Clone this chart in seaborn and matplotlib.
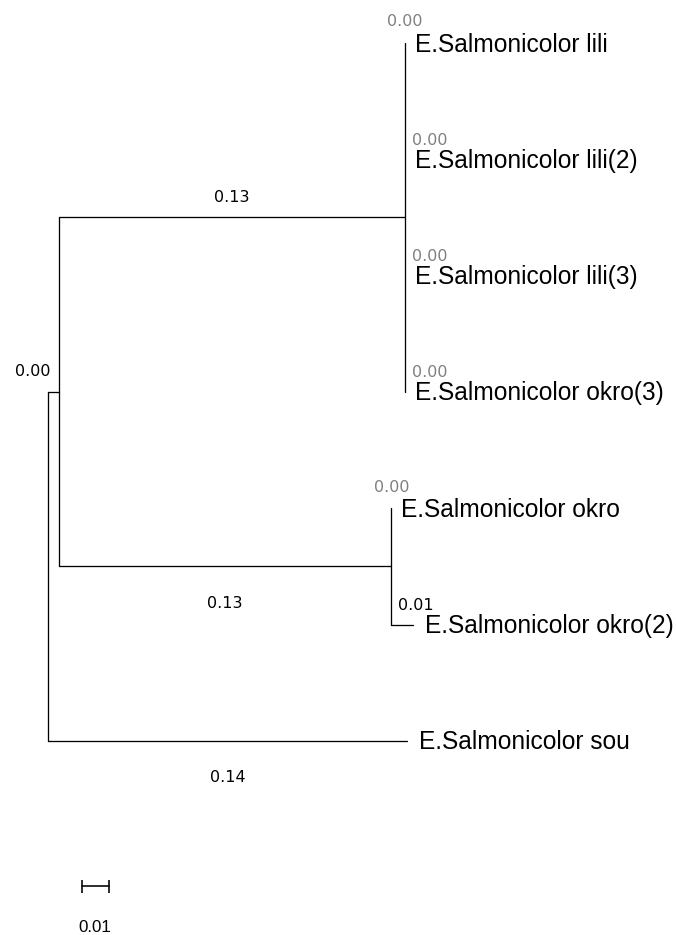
import matplotlib
matplotlib.use("Agg")
import matplotlib.pyplot as plt
import pandas as pd
import seaborn as sns

# tree topology (parent of each node) and branch lengths
node_names = ["root", "A", "L", "O", "lili", "lili2", "lili3", "okro3", "okro", "okro2", "sou"]
parents = [None, "root", "A", "A", "L", "L", "L", "L", "O", "O", "root"]
branch_lengths = [0.0, 0.004, 0.130, 0.125, 0.0, 0.0, 0.0, 0.0, 0.0, 0.008, 0.135]
branch_labels = ["", "0.00", "0.13", "0.13", "0.00", "0.00", "0.00", "0.00", "0.00", "0.01", "0.14"]

leaf_order = ["lili", "lili2", "lili3", "okro3", "okro", "okro2", "sou"]
leaf_labels = [
    "E.Salmonicolor lili",
    "E.Salmonicolor lili(2)",
    "E.Salmonicolor lili(3)",
    "E.Salmonicolor okro(3)",
    "E.Salmonicolor okro",
    "E.Salmonicolor okro(2)",
    "E.Salmonicolor sou",
]
scale_length = 0.01

# layout (pixels, figure drawn at 72 dpi so 1 pt == 1 px)
W, H = 676, 935
PX_PER_UNIT = 2662
ROOT_PX = 48
LEAF_TOP_PX = 43
LEAF_STEP_PX = 116.3


def build_tree():
    children = {n: [] for n in node_names}
    for n, p in zip(node_names, parents):
        if p is not None:
            children[p].append(n)
    length = dict(zip(node_names, branch_lengths))
    label = dict(zip(node_names, branch_labels))
    parent = dict(zip(node_names, parents))
    xs, ys = {}, {}

    def place(n, x0):
        xs[n] = x0 + length[n]
        if not children[n]:
            ys[n] = leaf_order.index(n)
        else:
            for c in children[n]:
                place(c, xs[n])
            cy = [ys[c] for c in children[n]]
            ys[n] = (min(cy) + max(cy)) / 2

    place("root", 0.0)
    return children, length, label, parent, xs, ys


def main():
    children, length, label, parent, xs, ys = build_tree()

    rows = []
    seg = 0
    for n in node_names:
        p = parent[n]
        if p is not None and length[n] > 0:
            rows += [(seg, xs[p], ys[n]), (seg, xs[n], ys[n])]
            seg += 1
        if children[n]:
            cy = [ys[c] for c in children[n]]
            rows += [(seg, xs[n], min(cy)), (seg, xs[n], max(cy))]
            seg += 1
    segs = pd.DataFrame(rows, columns=["seg", "x", "y"])

    sns.set_style("white")
    fig = plt.figure(figsize=(W / 72, H / 72), dpi=72)
    ax = fig.add_axes([0, 0, 1, 1])
    sns.lineplot(data=segs, x="x", y="y", units="seg", estimator=None, sort=False,
                 color="black", linewidth=1.3, legend=False, ax=ax)

    ax.set_xlim(-ROOT_PX / PX_PER_UNIT, (W - ROOT_PX) / PX_PER_UNIT)
    ax.set_ylim((H - LEAF_TOP_PX) / LEAF_STEP_PX, -LEAF_TOP_PX / LEAF_STEP_PX)
    ax.axis("off")

    num_font = dict(family="DejaVu Sans", fontsize=16)
    for n in node_names:
        p = parent[n]
        if p is None:
            continue
        is_leaf = not children[n]
        first = children[p][0] == n
        color = "#808080" if is_leaf and length[n] == 0 else "black"
        if length[n] >= 0.05:
            dy = 20 if first else -37
            ax.annotate(label[n], ((xs[p] + xs[n]) / 2, ys[n]), xytext=(0, dy), textcoords="offset points",
                        ha="center", va="center", color=color, **num_font)
        elif is_leaf and first:
            ax.annotate(label[n], (xs[n], ys[n]), xytext=(0, 21), textcoords="offset points",
                        ha="center", va="center", color=color, **num_font)
        elif is_leaf:
            ax.annotate(label[n], (xs[p], ys[n]), xytext=(7, 19), textcoords="offset points",
                        ha="left", va="center", color=color, **num_font)
        else:
            ax.annotate(label[n], (xs[p], ys[n]), xytext=(2, 20), textcoords="offset points",
                        ha="right", va="center", color=color, **num_font)

    for n, text in zip(leaf_order, leaf_labels):
        gap = 10 if length[n] == 0 else 12
        ax.annotate(text, (xs[n], ys[n]), xytext=(gap, -8.5), textcoords="offset points",
                    ha="left", va="baseline", family="Liberation Sans", fontsize=24.5, color="black")

    # scale bar
    bar_x = (82 - ROOT_PX) / PX_PER_UNIT
    bar_y = (886 - LEAF_TOP_PX) / LEAF_STEP_PX
    ax.plot([bar_x, bar_x + scale_length], [bar_y, bar_y], color="black", linewidth=1.6,
            marker="|", markersize=13, markeredgewidth=1.6)
    ax.text(bar_x + scale_length / 2, (928 - LEAF_TOP_PX) / LEAF_STEP_PX, f"{scale_length:.2f}",
            ha="center", va="center", family="Liberation Sans", fontsize=17, color="black")

    fig.savefig("out.png", dpi=72)
    plt.close(fig)


if __name__ == "__main__":
    main()
